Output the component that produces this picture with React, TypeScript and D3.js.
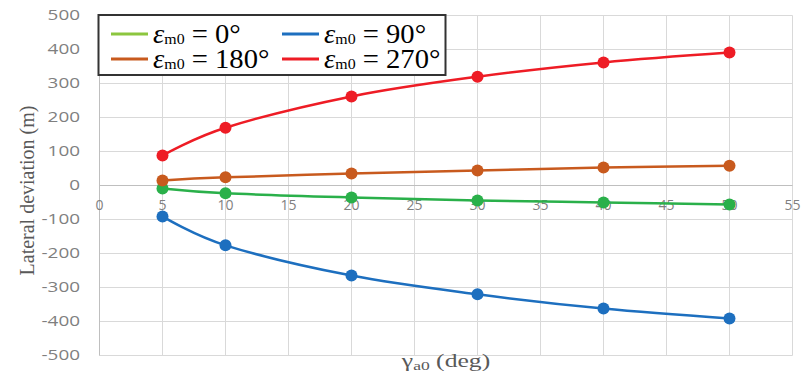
import React from "react";
import * as d3 from "d3";

const xValues = [5, 10, 20, 30, 40, 50];
const seriesNames = ["0°", "90°", "180°", "270°"];
const green0 = [-9, -23, -35, -44, -50, -56];
const blue90 = [-91, -176, -265, -320, -362, -391];
const orange180 = [15, 24, 35, 44, 53, 58];
const red270 = [88, 170, 262, 320, 362, 391];
const xTicks = [0, 5, 10, 15, 20, 25, 30, 35, 40, 45, 50, 55];
const yTicks = [500, 400, 300, 200, 100, 0, -100, -200, -300, -400, -500];

const W = 804, H = 378;
const left = 99.5, right = 792.5, top = 15.5, bottom = 355.5;

export default function App() {
  const x = d3.scaleLinear().domain([0, 55]).range([left, right]);
  const y = d3.scaleLinear().domain([-500, 500]).range([bottom, top]);
  const line = d3
    .line<number>()
    .x((_, i) => x(xValues[i]))
    .y((v) => y(v))
    .curve(d3.curveCatmullRom.alpha(0));

  const series = [
    { name: seriesNames[0], data: green0, color: "#2AB04A", legend: "#8CC63F" },
    { name: seriesNames[1], data: blue90, color: "#1D6FBF", legend: "#1D6FBF" },
    { name: seriesNames[2], data: orange180, color: "#C85A1E", legend: "#C85A1E" },
    { name: seriesNames[3], data: red270, color: "#EE1C25", legend: "#EE1C25" },
  ];

  const legendPos = [
    { x: 111, y: 34 },
    { x: 282, y: 34 },
    { x: 111, y: 59 },
    { x: 282, y: 59 },
  ];

  const serif = "Liberation Serif, Times New Roman, serif";
  const sans = "Open Sans, Liberation Sans, sans-serif";

  return (
    <svg
      width={W}
      height={H}
      style={{ position: "absolute", left: 0, top: 0, background: "#fff" }}
    >
      {/* grid */}
      {yTicks.map((t) => (
        <line key={"gy" + t} x1={left} x2={right} y1={y(t)} y2={y(t)} stroke="#D9D9D9" strokeWidth={1} />
      ))}
      {xTicks.map((t) => (
        <line key={"gx" + t} x1={x(t)} x2={x(t)} y1={top} y2={bottom} stroke="#D9D9D9" strokeWidth={1} />
      ))}
      <line x1={left} x2={right} y1={y(0)} y2={y(0)} stroke="#BFBFBF" strokeWidth={1} />
      <line x1={left} x2={left} y1={top} y2={bottom} stroke="#BFBFBF" strokeWidth={1} />

      {/* y tick labels */}
      {yTicks.map((t) => (
        <text
          key={"ly" + t}
          transform={`translate(80,${y(t)}) scale(1.35,1)`}
          dy="0.35em"
          textAnchor="end"
          fontFamily={sans}
          fontSize={14}
          fill="#7F7F7F"
        >
          {t}
        </text>
      ))}
      {/* x tick labels */}
      {xTicks.map((t) => (
        <text
          key={"lx" + t}
          x={x(t)}
          y={205}
          dy="0.35em"
          textAnchor="middle"
          fontFamily={sans}
          fontSize={14}
          fill="#7F7F7F"
        >
          {t}
        </text>
      ))}

      {/* series */}
      {series.map((s) => (
        <g key={s.name}>
          <path d={line(s.data) || ""} fill="none" stroke={s.color} strokeWidth={2.5} />
          {s.data.map((v, i) => (
            <circle key={i} cx={x(xValues[i])} cy={y(v)} r={6} fill={s.color} />
          ))}
        </g>
      ))}

      {/* axis titles */}
      <text
        transform={`translate(27,${(top + bottom) / 2 + 5}) rotate(-90)`}
        textAnchor="middle"
        dy="0.35em"
        fontFamily={serif}
        fontSize={20}
        fill="#595959"
      >
        Lateral deviation (m)
      </text>
      <text
        transform="translate(446,367) scale(1.35,1)"
        textAnchor="middle"
        fontFamily={serif}
        fontSize={19}
        fill="#595959"
      >
        γ
        <tspan fontSize={13} dy={3}>a0</tspan>
        <tspan dy={-3}> (deg)</tspan>
      </text>

      {/* legend */}
      <rect x={98.5} y={15} width={347} height={60} fill="#fff" stroke="#333" strokeWidth={2} />
      {series.map((s, i) => {
        const p = legendPos[i];
        return (
          <g key={"lg" + s.name}>
            <line x1={p.x} x2={p.x + 37} y1={p.y} y2={p.y} stroke={s.legend} strokeWidth={3} />
            <text
              transform={`translate(${p.x + 42},${p.y + 9}) scale(1.06,1)`}
              fontFamily={serif}
              fontSize={27}
              fill="#000"
            >
              <tspan fontStyle="italic">ε</tspan>
              <tspan fontSize={15} dy={1}>m0</tspan>
              <tspan dy={-1}>{" = " + s.name}</tspan>
            </text>
          </g>
        );
      })}
    </svg>
  );
}
